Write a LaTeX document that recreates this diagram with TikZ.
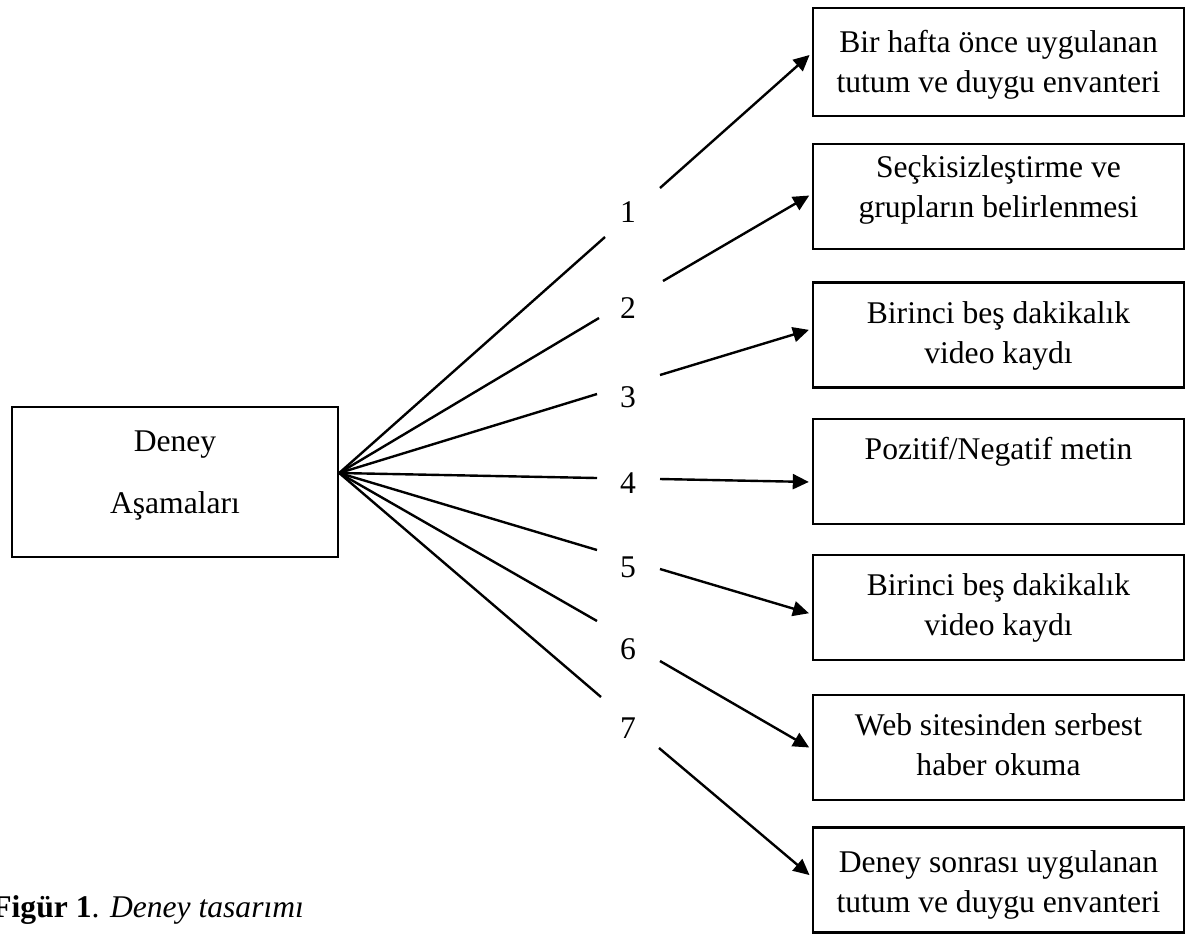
\documentclass[tikz,border=0pt]{standalone}
\usepackage{fontspec}
\setmainfont{Liberation Serif}
\usetikzlibrary{arrows.meta}
\tikzset{
  kutu/.style={draw,line width=1.2pt,minimum width=185.5pt,minimum height=52.5pt,align=center,inner sep=0pt},
  cizgi/.style={line width=1.2pt},
  ok/.style={line width=1.2pt,-{Triangle[length=8pt,width=7.5pt]},shorten >=1.5pt}
}
\begin{document}
\begin{tikzpicture}[x=0.5pt,y=-0.5pt,font=\fontsize{15.8}{20}\selectfont]
			\useasboundingbox (0,0) rectangle (1187,933);
			\node[kutu,minimum width=163pt,minimum height=75pt] (asama) at (175,482) {Deney\\[11pt]Aşamaları\rule[-9.5pt]{0pt}{0pt}};
			\coordinate (tepe) at ([yshift=4.5pt]asama.east);
			\node[kutu,minimum height=54pt] (b1) at (998.5,62) {\rule{0pt}{16pt}Bir hafta önce uygulanan\\tutum ve duygu envanteri\strut};
			\node[kutu] (b2) at (998.5,196.5) {\strut Seçkisizleştirme ve\\grupların belirlenmesi\rule[-13pt]{0pt}{0pt}};
			\node[kutu] (b3) at (998.5,335) {\strut Birinci beş dakikalık\\video kaydı\strut};
			\node[kutu] (b4) at (998.5,471.5) {\strut Pozitif/Negatif metin\\\strut};
			\node[kutu] (b5) at (998.5,607.5) {\strut Birinci beş dakikalık\\video kaydı\strut};
			\node[kutu] (b6) at (998.5,747.5) {\strut Web sitesinden serbest\\haber okuma\strut};
			\node[kutu] (b7) at (998.5,880) {\rule{0pt}{18pt}Deney sonrası uygulanan\\tutum ve duygu envanteri\strut};
			\node[anchor=base] (n1) at (628,222) {1};
			\node[anchor=base] (n2) at (628,318) {2};
			\node[anchor=base] (n3) at (628,407) {3};
			\node[anchor=base] (n4) at (628,493) {4};
			\node[anchor=base] (n5) at (628,577) {5};
			\node[anchor=base] (n6) at (628,659) {6};
			\node[anchor=base] (n7) at (628,738) {7};
			\coordinate (e1) at (605,237);
			\coordinate (e2) at (599,318);
			\coordinate (e3) at (597,394);
			\coordinate (e4) at (597,478);
			\coordinate (e5) at (597,550);
			\coordinate (e6) at (597,621);
			\coordinate (e7) at (601,697);
			\coordinate (s1) at (660,188);
			\coordinate (s2) at (663,281);
			\coordinate (s3) at (660,375);
			\coordinate (s4) at (660,479);
			\coordinate (s5) at (660,569);
			\coordinate (s6) at (660,661);
			\coordinate (s7) at (659,748);
			\foreach \i in {1,...,7}
			  \draw[cizgi] (tepe) -- (e\i);
			\draw[ok] (s1) -- ([yshift=4.5pt]b1.west);
			\draw[ok] (s2) -- ([yshift=1.25pt]b2.west);
			\draw[ok] (s3) -- ([yshift=3pt]b3.west);
			\draw[ok] (s4) -- ([yshift=-5.25pt]b4.west);
			\draw[ok] (s5) -- ([yshift=-3.3pt]b5.west);
			\draw[ok] (s6) -- ([yshift=-0.75pt]b6.west);
			\draw[ok] (s7) -- ([yshift=1.5pt]b7.west);
			\node[anchor=base west,inner sep=0pt] (figur) at (-8,917) {\textbf{Figür 1}. \textit{Deney tasarımı}};
		      \end{tikzpicture}
\end{document}
